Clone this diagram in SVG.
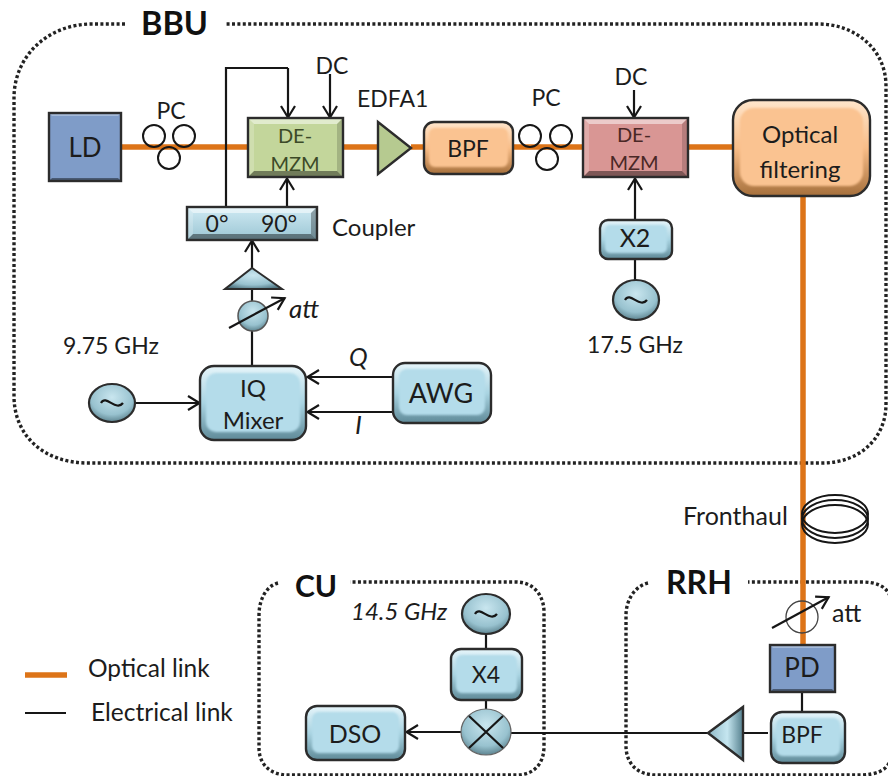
<svg xmlns="http://www.w3.org/2000/svg" width="888" height="776" viewBox="0 0 888 776">
<style>
text{font-family:"Lato","Carlito","Liberation Sans",sans-serif;fill:#1c1c1c;font-size:23px}
.c{text-anchor:middle}
.b{font-weight:700;fill:#111}
.i{font-style:italic}
.dot{fill:none;stroke:#222;stroke-width:3.4;stroke-dasharray:3 2.4}
.op{fill:none;stroke:#dd7418;stroke-width:5.5}
.el{fill:none;stroke:#161616;stroke-width:2.2}
.ar{marker-end:url(#a)}
.pc{fill:none;stroke:#161616;stroke-width:2}
.o{stroke:#2c2c2c;stroke-width:2.4}
.e{fill:none;stroke:#2c2c2c;stroke-width:2.4}
.blue{fill:url(#gb)}.blueI{fill:#b4dcea}
.or{fill:url(#go)}.orI{fill:#fac391}
.in{filter:url(#s)}
.hi{fill:#fff;fill-opacity:.5}
.lo{fill:#000;fill-opacity:.42}
.lf{fill:#fff;fill-opacity:.2}
.rt{fill:#000;fill-opacity:.16}
</style>
<defs>
<marker id="a" markerUnits="userSpaceOnUse" markerWidth="20" markerHeight="20" refX="14" refY="8" orient="auto"><path d="M2 1L13.5 8L2 15" fill="none" stroke="#161616" stroke-width="2.2"/></marker>
<filter id="s" x="-20%" y="-20%" width="140%" height="140%"><feGaussianBlur stdDeviation="1.2"/></filter>
<linearGradient id="gb" x1="0" y1="0" x2="0" y2="1"><stop offset="0" stop-color="#e6f5fa"/><stop offset=".5" stop-color="#a9d4e2"/><stop offset="1" stop-color="#5f8a98"/></linearGradient>
<linearGradient id="go" x1="0" y1="0" x2="0" y2="1"><stop offset="0" stop-color="#ffe6cc"/><stop offset=".5" stop-color="#f8bd88"/><stop offset="1" stop-color="#a6703c"/></linearGradient>
<linearGradient id="cb" x1="0" y1="0" x2="0" y2="1"><stop offset="0" stop-color="#cfeaf3"/><stop offset="1" stop-color="#9cc6d4"/></linearGradient>
<radialGradient id="gc" cx=".5" cy=".35" r=".7"><stop offset="0" stop-color="#c9e6ef"/><stop offset=".65" stop-color="#98c2cf"/><stop offset="1" stop-color="#4f7581"/></radialGradient>
<linearGradient id="gt" x1="0" y1="0" x2="1" y2="0"><stop offset="0" stop-color="#8fb9c7"/><stop offset=".55" stop-color="#c5e6f0"/><stop offset="1" stop-color="#55808e"/></linearGradient>
</defs>

<g id="boundaries">
<path class="dot" d="M125 24H92C48 24 14 56 14 98V396C14 436 44 463 88 463H822C860 463 886 438 886 404V86C886 50 856 24 818 24H226"/>
<path class="dot" d="M278 583C266 586 259 600 259 615V748C259 764 270 775 288 775H516C534 775 544 764 544 746V612C544 596 534 582 516 582H350"/>
<path class="dot" d="M648 583C635 586 626 600 626 615V746C626 764 638 775 656 775H860C876 775 888 770 890 760M890 596C886 586 876 582 862 582H748"/>
</g>

<g id="connectors">
<path class="op" d="M121 147H248M343 147H378M411 147H424M513 147H583M688 147H733M803 196V645"/>
<path class="el" d="M226 207V68H288"/>
<path class="el ar" d="M288 68V118"/>
<path class="el ar" d="M330 74V118"/>
<path class="el ar" d="M287 207V178"/>
<path class="el ar" d="M252 268V240"/>
<path class="el" d="M252 289V366"/>
<path class="el ar" d="M135 403H200"/>
<path class="el ar" d="M393 377H307"/>
<path class="el ar" d="M395 412H307"/>
<path class="el ar" d="M634 90V118"/>
<path class="el ar" d="M635 220V178"/>
<path class="el" d="M635 259V283"/>
<path class="el" d="M486 634V649M486 700V711M802 692V712M743 733H768M708 733H511"/>
<path class="el ar" d="M461 732H406"/>
</g>

<g id="legend">
<path class="op" d="M25 675H67"/>
<path class="el" d="M25 713H66"/>
<text x="88" y="677" style="font-size:24.5px">Optical link</text>
<text x="91" y="721" style="font-size:24.5px">Electrical link</text>
</g>

<text class="b" x="141" y="35" style="font-size:32.5px">BBU</text>
<text class="b" x="666" y="594" style="font-size:32px">RRH</text>
<text class="b" x="295" y="597" style="font-size:30px">CU</text>

<g id="pc1" class="pc"><circle cx="154" cy="136" r="11"/><circle cx="184" cy="136" r="11"/><circle cx="169" cy="158" r="11"/></g>
<text class="c" x="171" y="119">PC</text>
<g id="pc2" class="pc"><circle cx="530" cy="136" r="11"/><circle cx="561" cy="136" r="11"/><circle cx="547" cy="159" r="11"/></g>
<text class="c" x="546" y="106">PC</text>

<g id="ld"><rect x="49" y="113" width="72" height="68" fill="#7f9cc8"/><path class="hi" style="fill-opacity:.3" d="M49 113H121L118 116H52Z"/><path class="lo" d="M49 181H121L118 178H52Z"/><rect class="e" x="49" y="113" width="72" height="68"/><text class="c" x="85" y="157" style="font-size:26px">LD</text></g>

<g id="demzm1"><rect x="248" y="118" width="95" height="59" fill="#c3d69b"/><path class="hi" d="M248 118H343L337 124H254Z"/><path class="lo" d="M248 177H343L337 171H254Z"/><path class="lf" d="M248 118V177L254 171V124Z"/><path class="rt" d="M343 118V177L337 171V124Z"/><rect class="e" x="248" y="118" width="95" height="59"/><text class="c" x="295" y="143" style="font-size:20px;fill:#3c4a28">DE-</text><text class="c" x="295" y="171" style="font-size:20px;fill:#3c4a28">MZM</text></g>
<text class="c" x="332" y="74">DC</text>
<text x="357" y="107">EDFA1</text>
<g id="edfa1"><path class="o" d="M378 122V174L411 148Z" fill="#b6ca90"/></g>

<g id="bpf1"><rect class="or o" x="424" y="122" width="89" height="52" rx="10"/><rect class="orI in" x="429" y="128" width="79" height="39" rx="6"/><text class="c" x="468" y="157">BPF</text></g>

<g id="demzm2"><rect x="583" y="118" width="105" height="59" fill="#d99694"/><path class="hi" d="M583 118H688L682 124H589Z"/><path class="lo" d="M583 177H688L682 171H589Z"/><path class="lf" d="M583 118V177L589 171V124Z"/><path class="rt" d="M688 118V177L682 171V124Z"/><rect class="e" x="583" y="118" width="105" height="59"/><text class="c" x="634" y="142" style="font-size:20px;fill:#4a2826">DE-</text><text class="c" x="634" y="170" style="font-size:20px;fill:#4a2826">MZM</text></g>
<text class="c" x="631" y="85">DC</text>

<g id="optfilter"><rect class="or o" x="733" y="100" width="137" height="96" rx="20"/><rect class="orI in" x="740" y="108" width="123" height="78" rx="14"/><text class="c" x="800" y="143" style="font-size:24px">Optical</text><text class="c" x="800" y="178" style="font-size:24px">filtering</text></g>

<g id="coupler"><rect x="187" y="207" width="130" height="33" fill="url(#cb)"/><path class="hi" d="M187 207H317L311 213H193Z"/><path class="lo" d="M187 240H317L311 234H193Z"/><path class="lf" d="M187 207V240L193 234V213Z"/><path class="lo" style="fill-opacity:.3" d="M317 207V240L311 234V213Z"/><rect class="e" x="187" y="207" width="130" height="33"/><text class="c" x="217" y="232">0°</text><text class="c" x="279" y="232">90°</text></g>
<text x="332" y="236" style="font-size:24px">Coupler</text>

<g id="amp1"><path d="M252 268L282 289H225Z" fill="url(#gc)" stroke="#2c2c2c" stroke-width="2"/></g>
<g id="att1"><circle cx="253" cy="316" r="15" fill="url(#gc)" stroke="#555" stroke-width="1.5"/><path class="el ar" d="M229 328L285 298"/></g>
<text class="i" x="289" y="318" style="font-size:26px">att</text>

<g id="iqmixer"><rect class="blue o" x="200" y="366" width="106" height="74" rx="14"/><rect class="blueI in" x="206" y="373" width="94" height="59" rx="10"/><text class="c" x="253" y="397" style="font-size:24px">IQ</text><text class="c" x="253" y="429" style="font-size:24px">Mixer</text></g>
<g id="awg"><rect class="blue o" x="393" y="363" width="98" height="60" rx="12"/><rect class="blueI in" x="399" y="369" width="86" height="46" rx="8"/><text class="c" x="441" y="403" style="font-size:27px">AWG</text></g>
<text class="i" x="349" y="366" style="font-size:25px">Q</text>
<text class="i" x="355" y="434" style="font-size:26px">I</text>

<g id="src1"><ellipse cx="112" cy="403" rx="23" ry="19" fill="url(#gc)" stroke="#2c2c2c" stroke-width="2.2"/><path class="el" d="M101 403C106 394 116 412 123 403"/></g>
<text x="63" y="354">9.75 GHz</text>

<g id="x2"><rect class="blue o" x="600" y="220" width="72" height="39" rx="8"/><rect class="blueI in" x="605" y="225" width="62" height="28" rx="5"/><text class="c" x="635" y="247" style="font-size:25px">X2</text></g>
<g id="src2"><ellipse cx="636" cy="300" rx="23" ry="20" fill="url(#gc)" stroke="#2c2c2c" stroke-width="2.2"/><path class="el" d="M625 300C630 291 640 309 647 300"/></g>
<text class="c" x="635" y="353">17.5 GHz</text>

<text x="683" y="525" style="font-size:25px">Fronthaul</text>
<g id="fiber" fill="none" stroke="#161616" stroke-width="2"><ellipse cx="835" cy="514" rx="33" ry="19"/><ellipse cx="835" cy="519" rx="33" ry="19"/><ellipse cx="835" cy="524" rx="33" ry="19"/></g>

<g id="att2"><circle cx="802" cy="617" r="16" fill="none" stroke="#444" stroke-width="1.3"/><path class="el ar" d="M772 628L829 597"/></g>
<text x="832" y="622" style="font-size:25px">att</text>
<g id="pd"><rect x="770" y="645" width="65" height="47" fill="#7f9cc8"/><path class="hi" style="fill-opacity:.3" d="M770 645H835L832 648H773Z"/><path class="lo" d="M770 692H835L832 689H773Z"/><rect class="e" x="770" y="645" width="65" height="47"/><text class="c" x="802" y="677" style="font-size:26px">PD</text></g>
<g id="bpf2"><rect class="blue o" x="771" y="712" width="74" height="51" rx="11"/><rect class="blueI in" x="776" y="718" width="64" height="38" rx="7"/><text class="c" x="802" y="743">BPF</text></g>
<g id="amp2"><path d="M708 733L743 707V760Z" fill="url(#gt)" stroke="#2c2c2c" stroke-width="2.4"/></g>

<g id="mixer"><ellipse cx="486" cy="732" rx="25" ry="23" fill="url(#gc)" stroke="#666" stroke-width="1.2"/><path class="el" d="M469 716L503 748M503 716L469 748"/></g>
<g id="dso"><rect class="blue o" x="306" y="706" width="99" height="54" rx="11"/><rect class="blueI in" x="312" y="712" width="87" height="41" rx="7"/><text class="c" x="355" y="743" style="font-size:25px">DSO</text></g>
<g id="x4"><rect class="blue o" x="451" y="649" width="71" height="51" rx="10"/><rect class="blueI in" x="456" y="655" width="61" height="38" rx="6"/><text class="c" x="486" y="683">X4</text></g>
<g id="src3"><ellipse cx="486" cy="614" rx="24" ry="20" fill="url(#gc)" stroke="#2c2c2c" stroke-width="2.2"/><path class="el" d="M475 614C480 605 490 623 497 614"/></g>
<text class="i" x="351" y="620" style="font-size:24px">14.5 GHz</text>
</svg>
